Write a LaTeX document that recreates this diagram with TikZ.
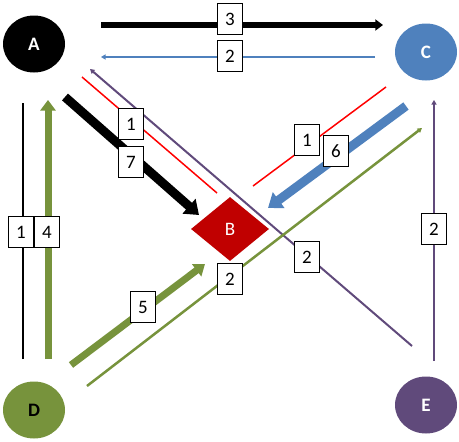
\documentclass[tikz,border=0pt]{standalone}
\usepackage{fontspec}
\setmainfont{Carlito}
\usetikzlibrary{arrows.meta,shapes.geometric}
\definecolor{cblue}{RGB}{79,129,189}
\definecolor{dgreen}{RGB}{119,147,60}
\definecolor{epurple}{RGB}{96,74,123}
\definecolor{bred}{RGB}{192,0,0}
\definecolor{lred}{RGB}{255,0,0}
\tikzset{
  circ/.style={ellipse, minimum width=62pt, minimum height=57pt, inner sep=0pt, font=\fontsize{19}{19}\selectfont\bfseries},
  lbl/.style={draw=black, fill=white, line width=0.9pt, minimum width=25pt, minimum height=31pt, inner sep=0pt, font=\fontsize{19}{19}\selectfont},
  thinhead/.style={-{Triangle[width=5pt,length=4.5pt]}},
  bighead/.style={-{Triangle[width=#1,length=0.7*#1]}}
}
\begin{document}
\begin{tikzpicture}[x=1pt,y=-1pt]
\useasboundingbox (0,0) rectangle (459,442);
% endpoints
\coordinate (ac1) at (101,25);  \coordinate (ac2) at (383,25);
\coordinate (ca1) at (375,57);  \coordinate (ca2) at (101,57);
\coordinate (ab1) at (65,97);   \coordinate (ab2) at (199,215);
\coordinate (rab1) at (82,77);  \coordinate (rab2) at (217,193);
\coordinate (ea1) at (412,346); \coordinate (ea2) at (90,69);
\coordinate (cb1) at (406,106); \coordinate (cb2) at (268,208);
\coordinate (rcb1) at (386,87); \coordinate (rcb2) at (253,186);
\coordinate (dc1) at (87,386);  \coordinate (dc2) at (422,128);
\coordinate (db1) at (71,365);  \coordinate (db2) at (205,264);
\coordinate (da1) at (23,359);  \coordinate (da2) at (23,103);
\coordinate (gda1) at (48,359); \coordinate (gda2) at (48,100);
\coordinate (ec1) at (434,361); \coordinate (ec2) at (434,100);
% connectors
\draw[line width=6pt, bighead=11pt] (ac1) -- (ac2);
\draw[cblue, line width=1.6pt, thinhead] (ca1) -- (ca2);
\draw[line width=9pt, bighead=19pt] (ab1) -- (ab2);
\draw[lred, line width=1.5pt] (rab1) -- (rab2);
\draw[epurple, line width=2pt, thinhead] (ea1) -- (ea2);
\draw[cblue, line width=9pt, bighead=19pt] (cb1) -- (cb2);
\draw[lred, line width=1.5pt] (rcb1) -- (rcb2);
\draw[dgreen, line width=2.5pt, thinhead] (dc1) -- (dc2);
\draw[dgreen, line width=7pt, bighead=15pt] (db1) -- (db2);
\draw[black, line width=1.2pt] (da1) -- (da2);
\draw[dgreen, line width=7pt, bighead=15pt] (gda1) -- (gda2);
\draw[epurple, line width=2pt, thinhead] (ec1) -- (ec2);
% nodes
\node[circ, fill=black, text=white] (A) at (34,44) {A};
\node[circ, fill=cblue, text=white] (C) at (426,52) {C};
\node[circ, fill=dgreen, text=black] (D) at (34,410) {D};
\node[circ, fill=epurple, text=white] (E) at (426,405) {E};
\node[diamond, fill=bred, text=white, minimum width=78pt, minimum height=64pt, inner sep=0pt, aspect=1.22, font=\fontsize{19}{19}\selectfont] (B) at (230,229) {B};
% labels
\node[lbl] (l3) at (230,19) {3};
\node[lbl] (l2a) at (230,56) {2};
\node[lbl] (l1a) at (131,124) {1};
\node[lbl] (l7) at (131,162) {7};
\node[lbl] (l1c) at (307,140) {1};
\node[lbl] (l6) at (336,151) {6};
\node[lbl] (l2e) at (307,257) {2};
\node[lbl] (l2d) at (230,279) {2};
\node[lbl] (l5) at (143,307) {5};
\node[lbl] (l1d) at (21,232) {1};
\node[lbl] (l4) at (47,232) {4};
\node[lbl] (l2c) at (434,229) {2};
\end{tikzpicture}
\end{document}
